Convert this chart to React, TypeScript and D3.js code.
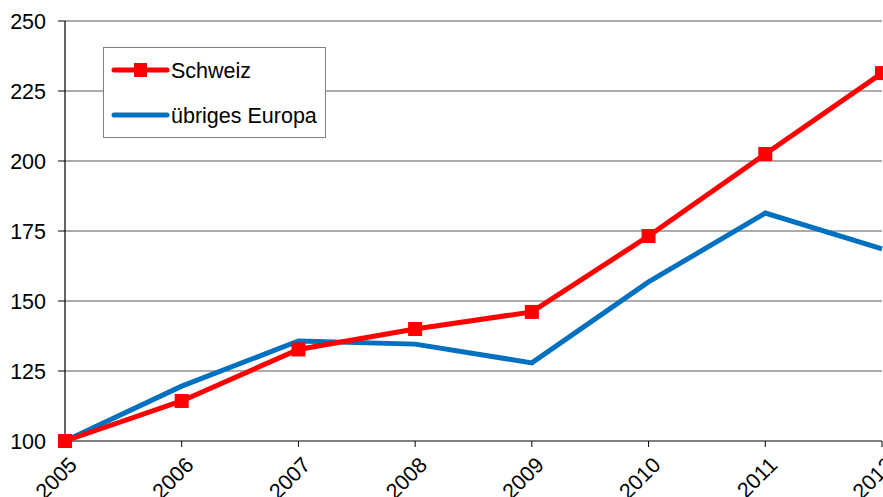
import React from "react";
import * as d3 from "d3";

const years = ["2005", "2006", "2007", "2008", "2009", "2010", "2011", "2012"];
const schweiz = [100, 114.3, 132.7, 140, 146.1, 173.2, 202.5, 231.4];
const europa = [100, 119.6, 135.7, 134.6, 127.9, 156.8, 181.4, 168.6];
const yTicks = [100, 125, 150, 175, 200, 225, 250];

const W = 883;
const H = 497;
const left = 65;
const right = 882;
const top = 21;
const bottom = 441;
const font = "'Liberation Sans', Arial, sans-serif";
const fs = 21.5;

export default function App() {
  const x = d3.scalePoint<string>().domain(years).range([left, right]);
  const y = d3.scaleLinear().domain([100, 250]).range([bottom, top]);
  const line = d3
    .line<number>()
    .x((_, i) => x(years[i]) as number)
    .y((d) => y(d));

  return (
    <svg
      width={W}
      height={H}
      style={{ position: "absolute", left: 0, top: 0, fontFamily: font }}
    >
      <rect width={W} height={H} fill="#fff" />
      {yTicks.map((t) => (
        <g key={t}>
          {t > 100 && (
            <line x1={left} x2={right} y1={y(t)} y2={y(t)} stroke="#595959" strokeWidth={1} />
          )}
          <line x1={left - 7} x2={left} y1={y(t)} y2={y(t)} stroke="#000" strokeWidth={1} />
          <text x={left - 19} y={y(t)} dy="0.35em" textAnchor="end" fontSize={fs} fill="#000">
            {t}
          </text>
        </g>
      ))}
      <line x1={left} x2={left} y1={top} y2={bottom} stroke="#000" strokeWidth={1.2} />
      <line x1={left} x2={right} y1={bottom} y2={bottom} stroke="#000" strokeWidth={1.2} />
      {years.map((yr) => {
        const px = x(yr) as number;
        return (
          <g key={yr}>
            <line x1={px} x2={px} y1={bottom} y2={bottom + 6} stroke="#000" strokeWidth={1} />
            <text
              transform={`translate(${px + 8},${bottom + 20}) rotate(-45)`}
              textAnchor="end"
              dy="0.35em"
              fontSize={fs}
              fill="#000"
            >
              {yr}
            </text>
          </g>
        );
      })}
      <path d={line(europa) ?? ""} fill="none" stroke="#0070C0" strokeWidth={5} strokeLinejoin="miter" />
      <path d={line(schweiz) ?? ""} fill="none" stroke="#FF0000" strokeWidth={5} strokeLinejoin="miter" />
      {schweiz.map((v, i) => (
        <rect
          key={i}
          x={(x(years[i]) as number) - 7}
          y={y(v) - 7}
          width={14}
          height={14}
          fill="#FF0000"
        />
      ))}
      <g>
        <rect x={103.5} y={47.5} width={222} height={90} fill="#fff" stroke="#7f7f7f" strokeWidth={1} />
        <line x1={114} x2={167} y1={70} y2={70} stroke="#FF0000" strokeWidth={5} strokeLinecap="round" />
        <rect x={134} y={63} width={13} height={14} fill="#FF0000" />
        <text x={171} y={70} dy="0.35em" fontSize={fs} fill="#000">Schweiz</text>
        <line x1={114} x2={167} y1={115} y2={115} stroke="#0070C0" strokeWidth={5} strokeLinecap="round" />
        <text x={171} y={115} dy="0.35em" fontSize={fs} fill="#000">übriges Europa</text>
      </g>
    </svg>
  );
}
